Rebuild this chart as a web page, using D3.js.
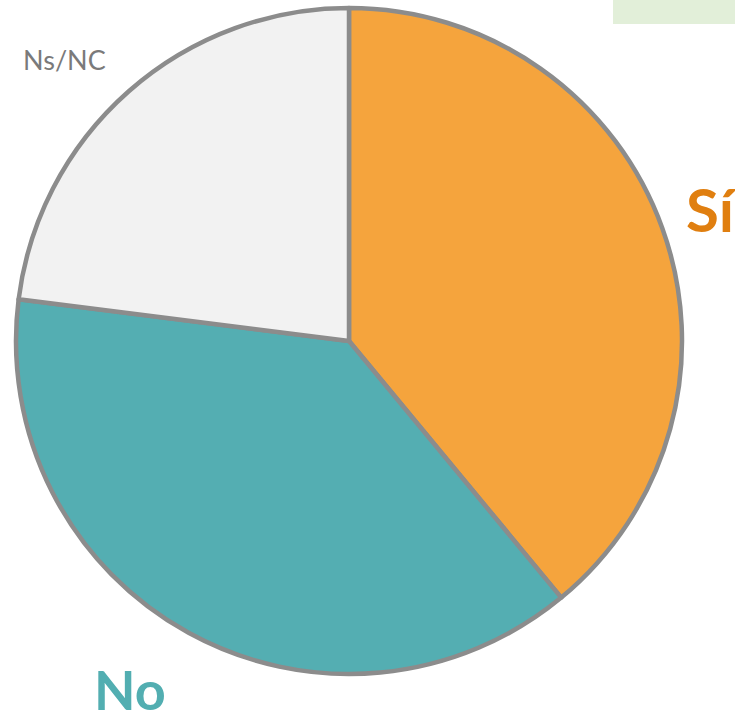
<!DOCTYPE html>
<html>
<head>
<meta charset="utf-8">
<script src="https://cdn.jsdelivr.net/npm/d3@7"></script>
<style>
  html, body { margin: 0; padding: 0; background: #ffffff; }
  svg { display: block; }
</style>
</head>
<body>
<svg id="chart" width="735" height="715"></svg>
<script>
// Survey answers and their shares (%)
const categories = ["Sí", "No", "Ns/NC"];
const values = [39, 38, 23];
const colors = ["#f5a43d", "#54aeb2", "#f2f2f2"];

const svg = d3.select("#chart");
const cx = 349, cy = 341, radius = 333;

// Corner tag in the top-right
svg.append("rect")
  .attr("x", 613).attr("y", 0)
  .attr("width", 122).attr("height", 24)
  .attr("fill", "#e2efd9");

const data = categories.map((c, i) => ({ category: c, value: values[i], color: colors[i] }));

const pie = d3.pie().value(d => d.value).sort(null);
const arc = d3.arc().innerRadius(0).outerRadius(radius);

const g = svg.append("g").attr("transform", `translate(${cx},${cy})`);

g.selectAll("path")
  .data(pie(data))
  .join("path")
  .attr("d", arc)
  .attr("fill", d => d.data.color)
  .attr("stroke", "#8c8c8c")
  .attr("stroke-width", 4.5)
  .attr("stroke-linejoin", "round");

// Category labels
svg.append("text")
  .attr("x", 686).attr("y", 232)
  .attr("font-family", "Lato, 'Open Sans', sans-serif")
  .attr("font-weight", "bold")
  .attr("font-size", 60)
  .attr("fill", "#e07f10")
  .text(categories[0]);

svg.append("text")
  .attr("x", 94).attr("y", 710)
  .attr("font-family", "Lato, 'Open Sans', sans-serif")
  .attr("font-weight", "bold")
  .attr("font-size", 54)
  .attr("fill", "#52aeb1")
  .text(categories[1]);

svg.append("text")
  .attr("x", 23).attr("y", 70)
  .attr("font-family", "Lato, 'Open Sans', sans-serif")
  .attr("font-size", 27)
  .attr("fill", "#7a7a7a")
  .text(categories[2]);
</script>
</body>
</html>
